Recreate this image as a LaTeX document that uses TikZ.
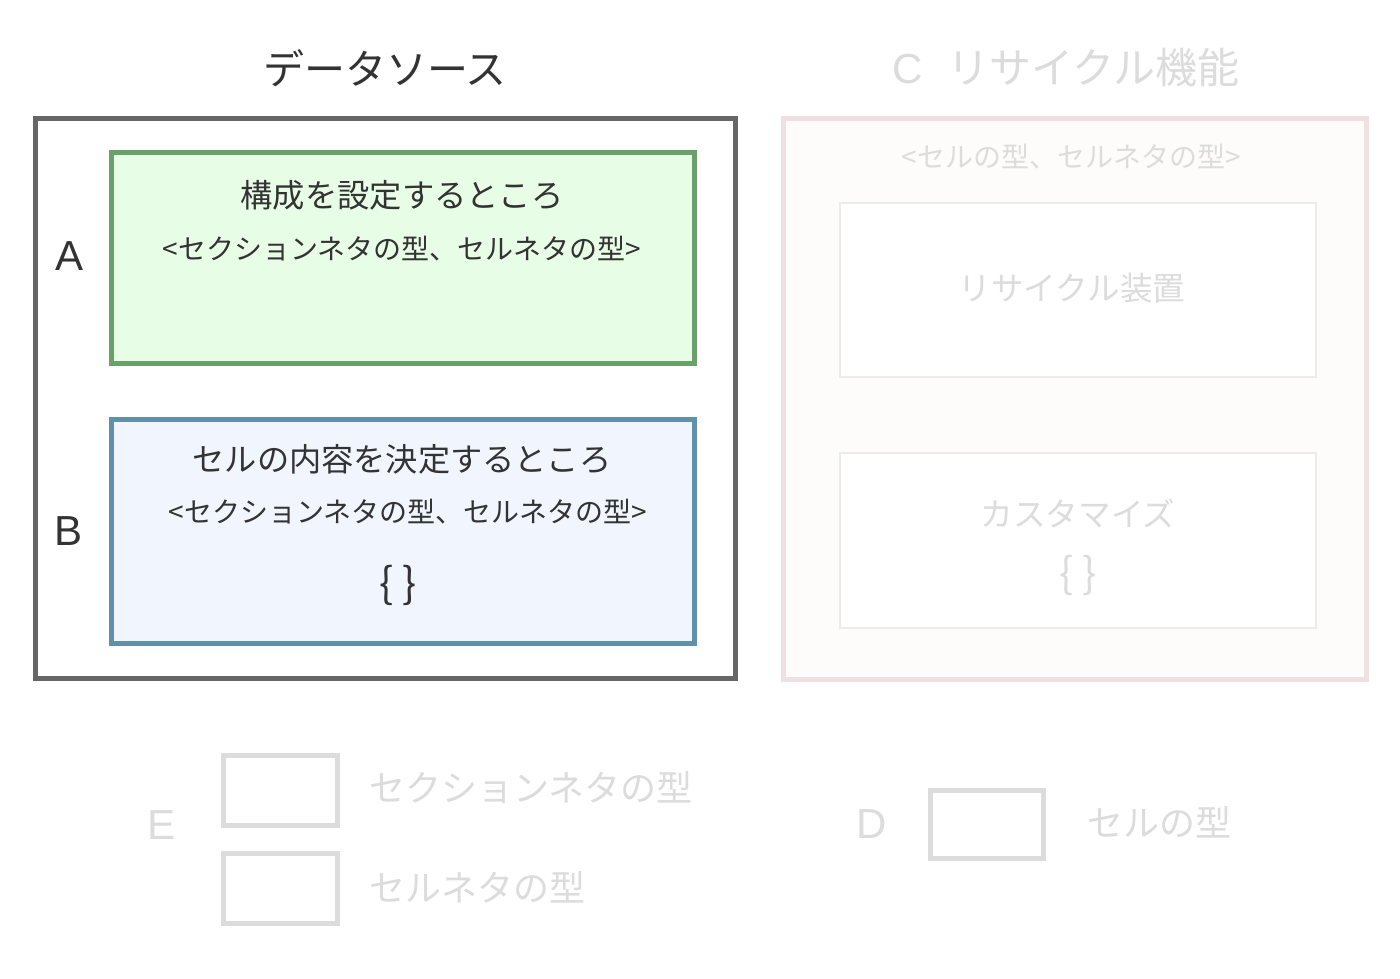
\documentclass[tikz,border=0pt]{standalone}
\usepackage{fontspec}
\setmainfont{Noto Sans CJK JP}
\newfontfamily\latinfont{Liberation Sans}
\definecolor{txt}{HTML}{333333}
\definecolor{faint}{HTML}{DCDCDC}
\definecolor{outerL}{HTML}{666666}
\definecolor{greenS}{HTML}{6AA06A}
\definecolor{greenF}{HTML}{E8FDE6}
\definecolor{blueS}{HTML}{6090AA}
\definecolor{blueF}{HTML}{F0F5FE}
\definecolor{pinkS}{HTML}{F0E0E2}
\definecolor{pinkF}{HTML}{FDFCFB}
\definecolor{innerS}{HTML}{EBEBEB}
\tikzset{
  box/.style={line width=5pt},
  lbl/.style={inner sep=0pt, text=txt, anchor=center},
  flbl/.style={inner sep=0pt, text=faint, anchor=center},
  letter/.style={font=\latinfont\fontsize{42}{46}\selectfont},
}
\begin{document}
\begin{tikzpicture}[x=1pt,y=-1pt]
\useasboundingbox[fill=white] (0,0) rectangle (1400,979);
% left panel
\node[lbl, font=\fontsize{41}{45}\selectfont] (tL) at (385,68) {データソース};
\draw[box, draw=outerL] (35,119) rectangle (735,678);
\node[lbl, letter] (lA) at (70,256) {A};
\node[lbl, letter] (lB) at (69,531) {B};
\draw[box, draw=greenS, fill=greenF] (111,153) rectangle (694,363);
\node[lbl, font=\fontsize{32.3}{36}\selectfont] (g1) at (402,195) {構成を設定するところ};
\node[lbl, font=\fontsize{28}{32}\selectfont] (g2) at (402,249) {<セクションネタの型、セルネタの型>};
\draw[box, draw=blueS, fill=blueF] (111,419) rectangle (694,643);
\node[lbl, font=\fontsize{32.2}{36}\selectfont] (b1) at (402,459) {セルの内容を決定するところ};
\node[lbl, font=\fontsize{28}{32}\selectfont] (b2) at (408,512) {<セクションネタの型、セルネタの型>};
\node[lbl, font=\fontsize{42}{46}\selectfont] (b3) at (398,585) {\{ \}};
% right panel
\node[flbl, font=\fontsize{42}{46}\selectfont] (tR) at (1066,68) {{\latinfont C}\hspace{0.6em}リサイクル機能};
\draw[box, draw=pinkS, fill=pinkF] (783,119) rectangle (1366,679);
\node[flbl, font=\fontsize{28}{32}\selectfont] (r0) at (1071,157) {<セルの型、セルネタの型>};
\draw[line width=1.2pt, draw=innerS, fill=white] (840,203) rectangle (1316,377);
\node[flbl, font=\fontsize{32.6}{36}\selectfont] (r1) at (1072,288) {リサイクル装置};
\draw[line width=1.2pt, draw=innerS, fill=white] (840,453) rectangle (1316,628);
\node[flbl, font=\fontsize{32.6}{36}\selectfont] (r2) at (1078,513) {カスタマイズ};
\node[flbl, font=\fontsize{42}{46}\selectfont] (r3) at (1078,575) {\{ \}};
% legend E
\node[flbl, letter] (lE) at (162,825) {E};
\draw[box, draw=faint, fill=white] (223,755) rectangle (337,825);
\node[flbl, font=\fontsize{36}{40}\selectfont, anchor=west] (e1) at (369,787) {セクションネタの型};
\draw[box, draw=faint, fill=white] (223,853) rectangle (337,923);
\node[flbl, font=\fontsize{36}{40}\selectfont, anchor=west] (e2) at (369,887) {セルネタの型};
% legend D
\node[flbl, letter] (lD) at (872,824) {D};
\draw[box, draw=faint, fill=white] (930,790) rectangle (1043,858);
\node[flbl, font=\fontsize{36}{40}\selectfont, anchor=west] (d1) at (1087,822) {セルの型};
\end{tikzpicture}
\end{document}
